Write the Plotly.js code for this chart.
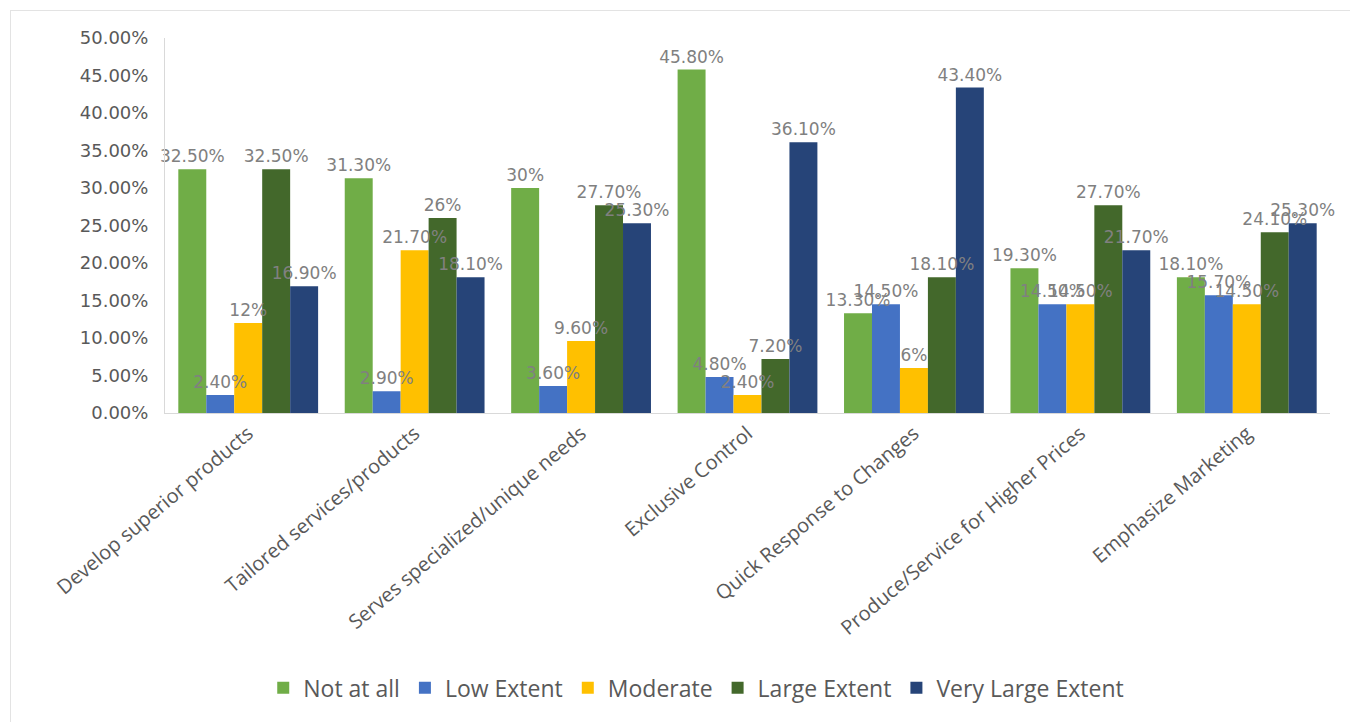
<!DOCTYPE html>
<html><head><meta charset="utf-8">
<script src="https://cdn.plot.ly/plotly-3.0.1.min.js"></script>
<style>html,body{margin:0;padding:0;background:#fff}#frame{position:absolute;left:10px;top:10px;width:1360px;height:720px;border:1px solid #e3e3e3}#chart{position:absolute;left:0;top:0;width:1350px;height:722px}</style>
</head><body><div id="frame"></div><div id="chart"></div>
<script>
const categories = ["Develop superior products","Tailored services/products","Serves specialized/unique needs","Exclusive Control","Quick Response to Changes","Produce/Service for Higher Prices","Emphasize Marketing"];
const seriesNames = ["Not at all","Low Extent","Moderate","Large Extent","Very Large Extent"];
const notAtAll = [32.5,31.3,30,45.8,13.3,19.3,18.1];
const lowExtent = [2.4,2.9,3.6,4.8,14.5,14.5,15.7];
const moderate = [12,21.7,9.6,2.4,6,14.5,14.5];
const largeExtent = [32.5,26,27.7,7.2,18.1,27.7,24.1];
const veryLargeExtent = [16.9,18.1,25.3,36.1,43.4,21.7,25.3];
const yTickVals = [0,5,10,15,20,25,30,35,40,45,50];
const yTickText = ["0.00%","5.00%","10.00%","15.00%","20.00%","25.00%","30.00%","35.00%","40.00%","45.00%","50.00%"];
const colors = ["#70AD47","#4472C4","#FFC000","#43682B","#264478"];
const allSeries = [notAtAll,lowExtent,moderate,largeExtent,veryLargeExtent];
function fmt(v){return Number.isInteger(v)? v+"%" : v.toFixed(2)+"%";}
const barTraces = allSeries.map((vals,i)=>({
  type:"bar", name:seriesNames[i], x:categories, y:vals, offsetgroup:String(i),
  marker:{color:colors[i]}, hoverinfo:"skip"
}));
const textTraces = allSeries.map((vals,i)=>({
  type:"bar", name:seriesNames[i]+" labels", x:categories, y:vals, offsetgroup:String(i),
  marker:{color:"rgba(0,0,0,0)"}, showlegend:false,
  text:vals.map(fmt), textposition:"outside", constraintext:"none", cliponaxis:false,
  textfont:{family:"DejaVu Sans, sans-serif", size:17, color:"#808080"},
  hoverinfo:"skip"
}));
const layout = {
  width:1350, height:722,
  margin:{l:165,r:20,t:38,b:309},
  paper_bgcolor:"rgba(0,0,0,0)", plot_bgcolor:"rgba(0,0,0,0)",
  barmode:"group", bargap:0.16, bargroupgap:0,
  showlegend:true,
  legend:{orientation:"h", x:0.456, xanchor:"center", y:-0.733, yanchor:"middle",
    font:{family:"Open Sans, sans-serif", size:23, color:"#595959"}, itemwidth:30, traceorder:"normal"},
  xaxis:{tickangle:-40, showline:true, linecolor:"#d9d9d9", linewidth:1, ticks:"",
    tickfont:{family:"Open Sans, sans-serif", size:20, color:"#595959"}, showgrid:false},
  yaxis:{range:[0,50], tickvals:yTickVals, ticktext:yTickText, showline:true, linecolor:"#d9d9d9",
    showgrid:false, zeroline:false, ticks:"", ticklen:0, ticklabelstandoff:12,
    tickfont:{family:"DejaVu Sans, sans-serif", size:18, color:"#595959"}}
};
Plotly.newPlot("chart", barTraces.concat(textTraces), layout, {displayModeBar:false, staticPlot:true});
</script></body></html>
